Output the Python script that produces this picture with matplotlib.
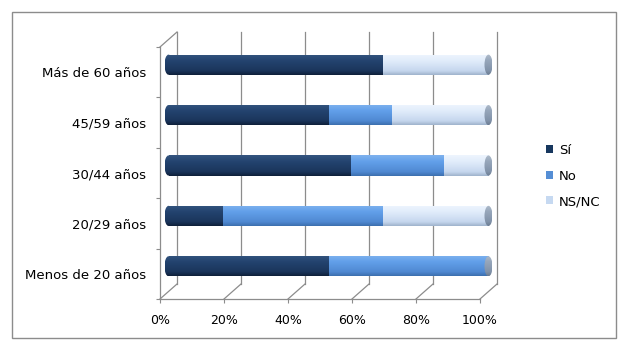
import numpy as np
import matplotlib
matplotlib.use('Agg')
import matplotlib.pyplot as plt
from matplotlib.patches import Rectangle, Ellipse, Patch
from matplotlib.lines import Line2D
from matplotlib.colors import to_rgb

# ---------------- data ----------------
categories = ['Menos de 20 años', '20/29 años', '30/44 años', '45/59 años', 'Más de 60 años']
si = [50, 17, 57, 50, 67]
no = [50, 50, 29, 20, 0]
nsnc = [0, 33, 14, 30, 33]
series_names = ['Sí', 'No', 'NS/NC']
xticks = [0, 20, 40, 60, 80, 100]
xticklabels = ['0%', '20%', '40%', '60%', '80%', '100%']

# ---------------- style ----------------
W, H = 629, 350
fig = plt.figure(figsize=(W / 100, H / 100), dpi=100)
fig.patch.set_facecolor('white')
plt.rcParams['font.family'] = ['DejaVu Sans']

def px(x0, y0, x1, y1):
    return [x0 / W, 1 - y1 / H, (x1 - x0) / W, (y1 - y0) / H]

ax = fig.add_axes(px(160, 47, 480, 299))
ax.set_facecolor('none')

n = len(categories)
xmax = 100.0
ppx = 320 / xmax          # pixels per x unit
ppy = 252 / n             # pixels per category
dx_back, dy_back = 17 / ppx, 15 / ppy
dx_mid, dy_mid = dx_back / 2, dy_back / 2

grid_col = '#8c8c8c'
for x in xticks:
    ax.add_line(Line2D([x + dx_back, x + dx_back], [dy_back, n + dy_back],
                       color=grid_col, lw=0.9, clip_on=False, zorder=1))
    ax.add_line(Line2D([x, x + dx_back], [0, dy_back],
                       color=grid_col, lw=0.9, clip_on=False, zorder=1))
ax.add_line(Line2D([0, dx_back], [n, n + dy_back], color=grid_col, lw=0.9,
                   clip_on=False, zorder=1))

# colours: stops (top edge, highlight, lower body, bottom edge)
shades = {
    'Sí': ['#34557f', '#244470', '#1a355b', '#0f203a'],
    'No': ['#7fb2ee', '#63a0ea', '#4f89d2', '#3c6fae'],
    'NS/NC': ['#eef5fe', '#e2edfb', '#c6d7ee', '#9fb3cc'],
}
cap_shade = ['#b0bccb', '#97a7bb', '#8192a9', '#6b7c92']
legend_cols = {'Sí': '#17375e', 'No': '#558ed5', 'NS/NC': '#c6d9f1'}
stop_pos = [0.0, 0.3, 0.8, 1.0]

def gradient(stops, N=64):
    c = np.array([to_rgb(s) for s in stops])
    t = np.linspace(0, 1, N)
    out = np.stack([np.interp(t, stop_pos, c[:, k]) for k in range(3)], axis=-1)
    return out[:, None, :]

def shaded(patch, stops, z):
    ax.add_patch(patch)
    ext = patch.get_path().get_extents(patch.get_patch_transform())
    im = ax.imshow(gradient(stops), extent=[ext.x0, ext.x1, ext.y0, ext.y1],
                   aspect='auto', origin='upper', interpolation='bilinear',
                   zorder=z)
    im.set_clip_box(fig.bbox)
    im.set_clip_path(patch)

bar_h = 0.4
cap_w = 8 / ppx
values = [si, no, nsnc]
for i in range(n):
    yc = i + 0.5 + dy_mid
    left = dx_mid
    first = True
    for name, vals in zip(series_names, values):
        v = vals[i]
        if v <= 0:
            continue
        if first:
            e = Ellipse((left, yc), cap_w, bar_h, facecolor='none', edgecolor='none')
            shaded(e, shades[name], 3)
            first = False
        r = Rectangle((left, yc - bar_h / 2), v, bar_h, facecolor='none', edgecolor='none')
        shaded(r, shades[name], 4)
        left += v
    e = Ellipse((left, yc), cap_w, bar_h, facecolor='none', edgecolor='none')
    shaded(e, cap_shade, 5)

ax.set_xlim(0, xmax)
ax.set_ylim(0, n)
ax.set_autoscale_on(False)

for s in ['top', 'right']:
    ax.spines[s].set_visible(False)
for s in ['left', 'bottom']:
    ax.spines[s].set_color(grid_col)
    ax.spines[s].set_linewidth(0.9)

ax.set_xticks(xticks)
ax.set_xticklabels(xticklabels, fontsize=9)
ax.tick_params(axis='x', length=3, color=grid_col, pad=8)
ax.set_yticks(range(n + 1))
ax.set_yticklabels([])
ax.set_yticks([i + 0.5 for i in range(n)], minor=True)
ax.set_yticklabels(categories, minor=True, fontsize=9.5)
ax.tick_params(axis='y', which='major', length=3, color=grid_col)
ax.tick_params(axis='y', which='minor', length=0, pad=10)

handles = [Patch(facecolor=legend_cols[s], edgecolor='none') for s in series_names]
fig.legend(handles, series_names, loc='center left',
           bbox_to_anchor=(534 / W, 1 - 176 / H), frameon=False, fontsize=9.5,
           handlelength=0.55, handleheight=0.55, handletextpad=0.45, labelspacing=0.95)

fig.add_artist(Rectangle((12 / W, 1 - 338 / H), 604 / W, 326 / H,
                         transform=fig.transFigure, facecolor='none',
                         edgecolor='#8c8c8c', lw=1))

fig.savefig('out.png', dpi=100)
